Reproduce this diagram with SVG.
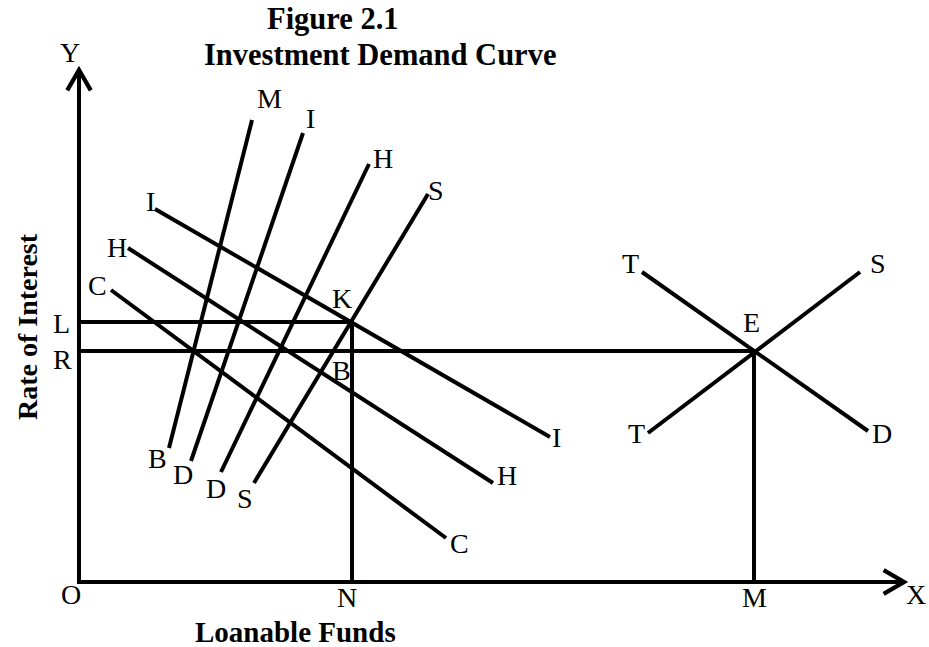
<svg xmlns="http://www.w3.org/2000/svg" width="929" height="647" viewBox="0 0 929 647">
<defs>
<style>
.ln{stroke:#000;stroke-width:4;fill:none;stroke-linecap:butt}
.lb{font-family:"Liberation Serif","Times New Roman",serif;font-size:28px;fill:#000}
.bd{font-family:"Liberation Serif","Times New Roman",serif;font-weight:bold;fill:#000}
</style>
<marker id="arr" markerUnits="userSpaceOnUse" markerWidth="30" markerHeight="30" refX="0" refY="0" viewBox="-22 -14 26 28" orient="auto" overflow="visible">
<path d="M-19,-11 L0,0 L-19,11" stroke="#000" stroke-width="4" fill="none"/>
</marker>
</defs>
<rect width="929" height="647" fill="#fff"/>
<g id="title">
<text class="bd" x="267" y="29" font-size="30.5">Figure 2.1</text>
<text class="bd" x="204" y="65" font-size="30.5">Investment Demand Curve</text>
</g>
<g id="axes">
<path class="ln" d="M79,582 V70" marker-end="url(#arr)"/>
<path class="ln" d="M77,582 H904" marker-end="url(#arr)"/>
<text class="lb" x="60" y="62">Y</text>
<text class="lb" x="906" y="604">X</text>
<text class="lb" x="61" y="604">O</text>
<text class="bd" font-size="28" transform="translate(37,327) rotate(-90)" text-anchor="middle">Rate of Interest</text>
<text class="bd" font-size="29" x="195" y="642">Loanable Funds</text>
</g>
<g id="connectors">
<line class="ln" x1="79" y1="322" x2="352" y2="322"/>
<line class="ln" x1="79" y1="351" x2="754" y2="351"/>
<line class="ln" x1="352" y1="322" x2="352" y2="582"/>
<line class="ln" x1="754" y1="351" x2="754" y2="582"/>
<line class="ln" x1="252" y1="120" x2="169" y2="448"/>
<line class="ln" x1="303" y1="133" x2="191" y2="461"/>
<line class="ln" x1="369" y1="164" x2="221" y2="472"/>
<line class="ln" x1="428" y1="194" x2="254" y2="483"/>
<line class="ln" x1="155" y1="209" x2="550" y2="437"/>
<line class="ln" x1="128" y1="248" x2="493" y2="483"/>
<line class="ln" x1="111" y1="290" x2="446" y2="538"/>
<line class="ln" x1="642" y1="272" x2="868" y2="431"/>
<line class="ln" x1="648" y1="433" x2="860" y2="272"/>
</g>
<g id="labels">
<text class="lb" x="53" y="333">L</text>
<text class="lb" x="53" y="369">R</text>
<text class="lb" x="337" y="607">N</text>
<text class="lb" x="742" y="607">M</text>
<text class="lb" x="332" y="308">K</text>
<text class="lb" x="332" y="380">B</text>
<text class="lb" x="257" y="108">M</text>
<text class="lb" x="306" y="128">I</text>
<text class="lb" x="373" y="168">H</text>
<text class="lb" x="428" y="200">S</text>
<text class="lb" x="146" y="211">I</text>
<text class="lb" x="107" y="257">H</text>
<text class="lb" x="88" y="295">C</text>
<text class="lb" x="148" y="468">B</text>
<text class="lb" x="173" y="484">D</text>
<text class="lb" x="206" y="498">D</text>
<text class="lb" x="237" y="508">S</text>
<text class="lb" x="450" y="553">C</text>
<text class="lb" x="497" y="485">H</text>
<text class="lb" x="552" y="447">I</text>
<text class="lb" x="622" y="273">T</text>
<text class="lb" x="870" y="273">S</text>
<text class="lb" x="743" y="332">E</text>
<text class="lb" x="628" y="443">T</text>
<text class="lb" x="872" y="443">D</text>
</g>
</svg>
